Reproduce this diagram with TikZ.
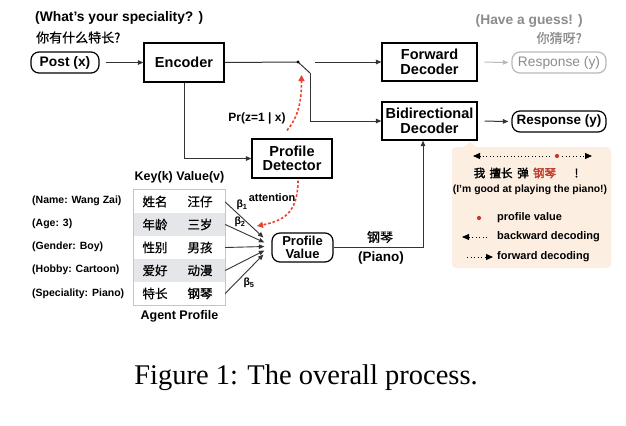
\documentclass[tikz,border=0pt]{standalone}
\usepackage{fontspec}
\setmainfont{Liberation Sans}
\newfontfamily\cjk[AutoFakeBold=0.8]{Noto Sans CJK SC}
\newfontfamily\cjkb[AutoFakeBold=2]{Noto Sans CJK SC}
\newfontfamily\capfont{Liberation Serif}
\usetikzlibrary{arrows.meta}
\definecolor{redd}{HTML}{E8432E}
\definecolor{brick}{HTML}{C23B2A}
\definecolor{legbg}{HTML}{FCEFE2}
\definecolor{rowgray}{HTML}{E4E6E9}
\definecolor{tblblue}{HTML}{AFCBE2}
\definecolor{greytxt}{HTML}{8C8C8C}
\definecolor{linec}{HTML}{333333}
\newcommand\fsz[1]{\fontsize{#1bp}{#1bp}\selectfont}
\begin{document}
\begin{tikzpicture}[x=1bp,y=-1bp,
  mytri/.tip={Triangle[length=5.5bp,width=4.5bp]},
  legtri/.tip={Triangle[length=7bp,width=6bp]},
  conn/.style={line width=1bp, draw=linec, -{mytri}},
  blk/.style={draw, line width=1.2bp, inner sep=0pt, align=center, font=\bfseries\fsz{14.5}},
  rblk/.style={blk, rounded corners=8bp},
  lbl/.style={inner sep=0pt, font=\bfseries\fsz{10.5}},
  cjktxt/.style={inner sep=0pt, font=\cjk\bfseries\fsz{12.5}},
  reddash/.style={draw=redd, line width=1.6bp, dash pattern=on 2.6bp off 2bp, -{Triangle[length=6bp,width=6bp]}},
  legdot/.style={line width=1bp, dash pattern=on 0.9bp off 2.6bp},
  rowcell/.style={inner sep=0pt, minimum width=91bp, minimum height=23bp}
]
\useasboundingbox (0,0) rectangle (626,425);
\fill[white] (0,0) rectangle (626,425);

% top texts
\node[inner sep=0pt, anchor=west, font=\bfseries\fsz{13.8}] (q1) at (35,18) {(What’s your speciality? )};
\node[inner sep=0pt, anchor=west, font=\cjk\bfseries\fsz{13}] (q2) at (36,37.5) {你有什么特长?};
\node[inner sep=0pt, anchor=east, text=greytxt, font=\bfseries\fsz{13.8}] (g1) at (583,21) {(Have a guess! )};
\node[inner sep=0pt, anchor=east, text=greytxt, font=\cjk\bfseries\fsz{13}] (g2) at (582,38) {你猜呀?};

% main boxes
\node[rblk, minimum width=68bp, minimum height=21bp, font=\bfseries\fsz{13.8}] (post) at (65,62.5) {Post (x)};
\node[blk, minimum width=80bp, minimum height=39bp] (enc) at (184,62.5) {Encoder};
\node[blk, minimum width=95bp, minimum height=38bp] (fwd) at (429.5,62) {Forward\\Decoder};
\node[blk, minimum width=95bp, minimum height=38bp] (bid) at (429.5,121) {Bidirectional\\Decoder};
\node[rblk, draw=gray!55, text=greytxt, minimum width=94bp, minimum height=21bp, font=\fsz{13.8}] (resg) at (559,62.5) {Response (y)};
\node[rblk, minimum width=94bp, minimum height=21bp, font=\bfseries\fsz{13.5}] (res) at (559,121.5) {Response (y)};
\node[blk, minimum width=80bp, minimum height=39bp] (det) at (292,158.5) {Profile\\Detector};
\node[rblk, minimum width=61bp, minimum height=29bp, font=\bfseries\fsz{13}] (pv) at (302.5,247.5) {Profile\\Value};

% switch
\coordinate (sw) at (298,62);
\coordinate (lev) at (310,73);
\coordinate (swt) at (315,62);
\draw[line width=1bp, draw=linec] (enc.east) -- (sw);
\draw[line width=1bp, draw=linec] (sw) -- (lev);
\fill (sw) circle (1.7bp);
\draw[conn] (swt) -- (fwd.west);
\draw[conn] (lev) |- (bid.west);
\draw[conn] (post.east) ++(6,0) -- (enc.west);
\draw[line width=1bp, draw=gray!55, -{mytri}, shorten <=7bp, shorten >=3bp] (fwd.east) -- (resg.west);
\draw[conn, shorten <=7bp, shorten >=3bp] (bid.east) -- (res.west);
\draw[conn] (enc.south) |- (det.west);
\draw[conn] (pv.east) -| ([xshift=-6.5bp]bid.south);

% red dashed
\draw[reddash] ([xshift=-5bp,yshift=8bp]det.north) .. controls (300,115) and (301.5,97) .. (301.5,75);
\draw[reddash] ([xshift=6bp,yshift=-2bp]det.south) .. controls (298,214) and (282,221) .. (257,226);
\node[inner sep=0pt, font=\bfseries\fsz{12}] (pr) at (257,118) {Pr(z=1 | x)};
\node[inner sep=0pt, font=\bfseries\fsz{11}] (att) at (272,198) {attention};

% labels on the output
\node[inner sep=0pt, font=\cjk\bfseries\fsz{13}] (gq) at (380,237) {钢琴};
\node[inner sep=0pt, font=\bfseries\fsz{13.5}] (pn) at (381,257.5) {(Piano)};

% table
\node[rowcell, fill=white] (r1) at (179.5,201.5) {};
\node[rowcell, fill=rowgray] (r2) at (179.5,224.5) {};
\node[rowcell, fill=white] (r3) at (179.5,247.5) {};
\node[rowcell, fill=rowgray] (r4) at (179.5,270.5) {};
\node[rowcell, fill=white] (r5) at (179.5,293.5) {};
\draw[tblblue, line width=1.1bp] (r1.north west) rectangle (r5.south east);
\node[cjktxt] (k1) at (155,201.5) {姓名};
\node[cjktxt] (v1) at (200,201.5) {汪仔};
\node[cjktxt] (k2) at (155,224.5) {年龄};
\node[cjktxt] (v2) at (200,224.5) {三岁};
\node[cjktxt] (k3) at (155,247.5) {性别};
\node[cjktxt] (v3) at (200,247.5) {男孩};
\node[cjktxt] (k4) at (155,270.5) {爱好};
\node[cjktxt] (v4) at (200,270.5) {动漫};
\node[cjktxt] (k5) at (155,293.5) {特长};
\node[cjktxt] (v5) at (200,293.5) {钢琴};
\node[inner sep=0pt, font=\bfseries\fsz{12.5}] (kv) at (179.5,177) {Key(k) Value(v)};
\node[inner sep=0pt, font=\bfseries\fsz{12.5}] (ap) at (179.5,316.5) {Agent Profile};

\node[lbl, anchor=west] (l1) at (32,200.5) {(Name: Wang Zai)};
\node[lbl, anchor=west] (l2) at (32,223.5) {(Age: 3)};
\node[lbl, anchor=west] (l3) at (32,247) {(Gender: Boy)};
\node[lbl, anchor=west] (l4) at (32,270) {(Hobby: Cartoon)};
\node[lbl, anchor=west] (l5) at (32,294) {(Speciality: Piano)};

% attention arrows
\draw[conn, line width=0.9bp] ([yshift=-0.5bp]r1.east) -- ([xshift=-8bp,yshift=10bp]pv.west);
\draw[conn, line width=0.9bp] (r2.east) -- ([xshift=-7bp,yshift=5bp]pv.west);
\draw[conn, line width=0.9bp] (r3.east) -- ([xshift=-7bp,yshift=1bp]pv.west);
\draw[conn, line width=0.9bp] (r4.east) -- ([xshift=-7bp,yshift=-3bp]pv.west);
\draw[conn, line width=0.9bp] (r5.east) -- ([xshift=-8bp,yshift=-7bp]pv.west);
\node[inner sep=0pt, font=\bfseries\fsz{10.5}] (b1) at (242,205) {β\textsubscript{1}};
\node[inner sep=0pt, font=\bfseries\fsz{10.5}] (b2) at (240,222) {β\textsubscript{2}};
\node[inner sep=0pt, font=\bfseries\fsz{10.5}] (b5) at (249,283) {β\textsubscript{5}};

% legend panel
\fill[legbg, rounded corners=4bp] (452,147) rectangle (611,268);
\fill[legbg] (463,147.5) -- (470,142) -- (477,147.5) -- cycle;
\coordinate (a1) at (550,156);
\coordinate (a2) at (473,156);
\coordinate (a3) at (562,156);
\coordinate (a4) at (592,156);
\draw[legdot, -{legtri}] (a1) -- (a2);
\draw[legdot, -{legtri}] (a3) -- (a4);
\fill[brick] (557,156) circle (2.1bp);
\node[inner sep=0pt, font=\cjkb\bfseries\fsz{11.5}] (w1) at (479.5,173) {我};
\node[inner sep=0pt, font=\cjkb\bfseries\fsz{11.5}] (w2) at (501,173) {擅长};
\node[inner sep=0pt, font=\cjkb\bfseries\fsz{11.5}] (w3) at (523,173) {弹};
\node[inner sep=0pt, font=\cjkb\bfseries\fsz{11.5}, text=brick] (w4) at (544.5,173) {钢琴};
\node[inner sep=0pt, font=\cjkb\bfseries\fsz{11.5}] (w5) at (576.5,173) {!};
\node[inner sep=0pt, font=\bfseries\fsz{10.4}] (tr) at (530,190) {(I’m good at playing the piano!)};
\fill[brick] (479,218) circle (2.1bp);
\node[inner sep=0pt, anchor=west, font=\bfseries\fsz{11}] (lg1) at (497,218) {profile value};
\coordinate (b1s) at (487,237);
\coordinate (b1e) at (462,237);
\draw[legdot, -{legtri}] (b1s) -- (b1e);
\node[inner sep=0pt, anchor=west, font=\bfseries\fsz{11}] (lg2) at (497,237) {backward decoding};
\coordinate (f1s) at (467,257);
\coordinate (f1e) at (493,257);
\draw[legdot, -{legtri}] (f1s) -- (f1e);
\node[inner sep=0pt, anchor=west, font=\bfseries\fsz{11}] (lg3) at (497,257) {forward decoding};

% caption
\node[inner sep=0pt, font=\capfont\fsz{28.5}] (cap) at (306,378) {Figure 1: The overall process.};
\end{tikzpicture}
\end{document}
